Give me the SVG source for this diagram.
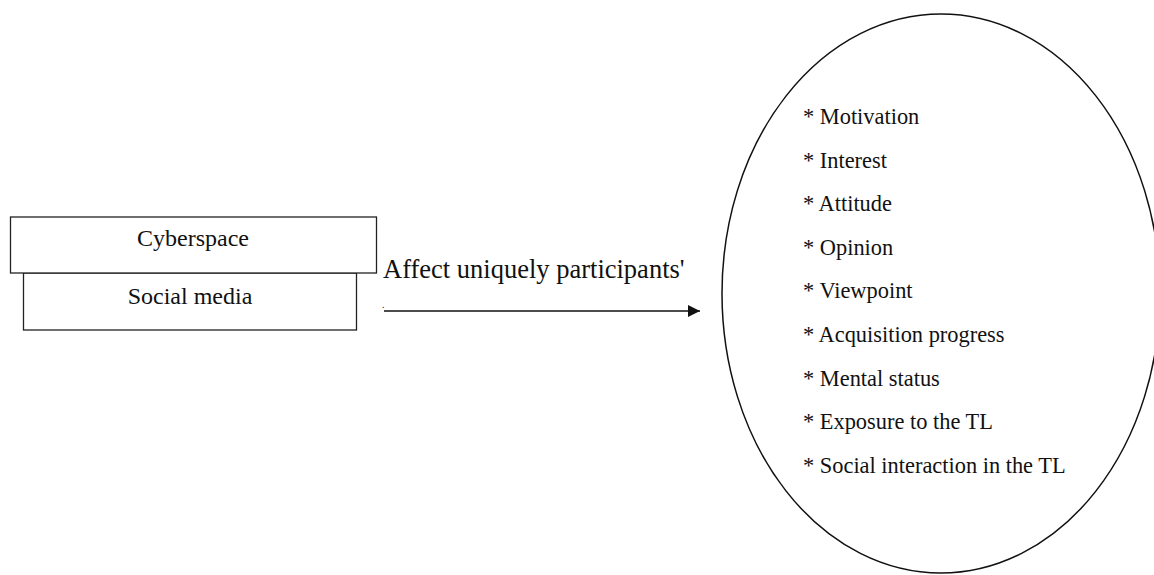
<svg xmlns="http://www.w3.org/2000/svg" width="1154" height="575" viewBox="0 0 1154 575">
<style>
text{fill:#111}
.box{fill:#fff;stroke:#222;stroke-width:1.3}
.lst{font-size:22.4px}
.bt{font-size:24px;text-anchor:middle}
</style>
<defs>
<marker id="ah" markerWidth="12" markerHeight="12" refX="12" refY="6" orient="auto" markerUnits="userSpaceOnUse">
<path d="M0,0 L12,6 L0,12 Z" fill="#111"/>
</marker>
</defs>
<rect width="1154" height="575" fill="#fff"/>
<g font-family="'Liberation Serif', 'DejaVu Serif', serif">
<g id="social-media">
<rect class="box" x="23.5" y="273" width="333" height="57"/>
<text class="bt" x="190" y="304">Social media</text>
</g>
<g id="cyberspace">
<rect class="box" x="10.5" y="217" width="366" height="56"/>
<text class="bt" x="193" y="246">Cyberspace</text>
</g>
<g id="connectors">
<line x1="384" y1="311" x2="700" y2="311" stroke="#111" stroke-width="1.5" marker-end="url(#ah)"/>
</g>
<g id="edge-label">
<text x="383" y="278" font-size="26.5">Affect uniquely participants'</text>
<text x="382" y="308" font-size="10">.</text>
</g>
<g id="factors">
<ellipse cx="941" cy="293.5" rx="219" ry="279.5" fill="none" stroke="#111" stroke-width="1.5"/>
<text class="lst" x="803" y="124">* Motivation</text>
<text class="lst" x="803" y="167.6">* Interest</text>
<text class="lst" x="803" y="211.2">* Attitude</text>
<text class="lst" x="803" y="254.8">* Opinion</text>
<text class="lst" x="803" y="298.4">* Viewpoint</text>
<text class="lst" x="803" y="342">* Acquisition progress</text>
<text class="lst" x="803" y="385.6">* Mental status</text>
<text class="lst" x="803" y="429.2">* Exposure to the TL</text>
<text class="lst" x="803" y="472.8">* Social interaction in the TL</text>
</g>
</g>
</svg>
